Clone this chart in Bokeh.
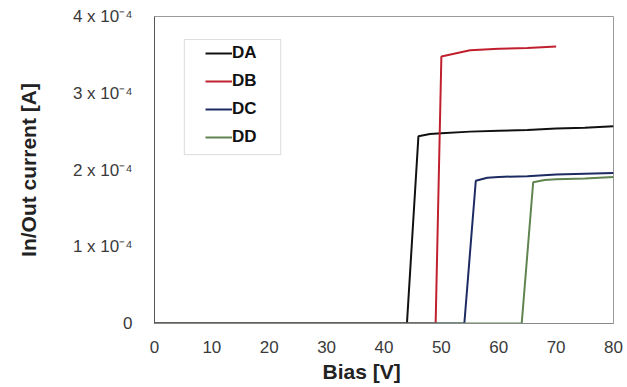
from bokeh.plotting import figure
from bokeh.models import FixedTicker, Legend, LegendItem, BoxAnnotation, Title
from bokeh.embed import file_html
from bokeh.resources import INLINE

# Bias sweep [V] and measured in/out current [A] per device
da_bias = [0, 10, 20, 30, 40, 44, 46, 48, 50, 55, 60, 65, 70, 75, 80]
da_curr = [0, 0, 0, 0, 0, 0, 2.44e-4, 2.47e-4, 2.48e-4, 2.50e-4, 2.51e-4, 2.52e-4, 2.54e-4, 2.55e-4, 2.57e-4]

db_bias = [0, 10, 20, 30, 40, 49, 50, 55, 60, 65, 70]
db_curr = [0, 0, 0, 0, 0, 0, 3.48e-4, 3.56e-4, 3.58e-4, 3.59e-4, 3.61e-4]

dc_bias = [0, 10, 20, 30, 40, 50, 54, 56, 58, 60, 65, 70, 75, 80]
dc_curr = [0, 0, 0, 0, 0, 0, 0, 1.86e-4, 1.90e-4, 1.91e-4, 1.92e-4, 1.94e-4, 1.95e-4, 1.96e-4]

dd_bias = [0, 10, 20, 30, 40, 50, 60, 64, 66, 68, 70, 75, 80]
dd_curr = [0, 0, 0, 0, 0, 0, 0, 0, 1.84e-4, 1.87e-4, 1.88e-4, 1.89e-4, 1.91e-4]

series_names = ["DA", "DB", "DC", "DD"]
series_colors = ["#111111", "#c0202e", "#1c2b62", "#5f8450"]

x_ticks = [0, 10, 20, 30, 40, 50, 60, 70, 80]
y_ticks = [0, 1e-4, 2e-4, 3e-4, 4e-4]
y_tick_labels = ["0", "1 x 10\u207b\u2074", "2 x 10\u207b\u2074", "3 x 10\u207b\u2074", "4 x 10\u207b\u2074"]

FONT = "Liberation Sans"

p = figure(width=627, height=387, output_backend="svg", toolbar_location=None,
           x_range=(0, 80), y_range=(0, 4e-4),
           min_border_left=154, min_border_right=14, min_border_top=16, min_border_bottom=64)
p.grid.visible = False
p.outline_line_color = "#9a9a9a"
p.outline_line_width = 1
p.background_fill_color = "white"
p.border_fill_color = "white"

# legend frame
p.add_layout(BoxAnnotation(left=5.2, right=22.0, top=3.70e-4, bottom=2.20e-4,
                           fill_color="white", fill_alpha=1.0,
                           line_color="#8a8a8a", line_width=1, level="underlay"))

renderers = []
for xs, ys, c in zip([da_bias, db_bias, dc_bias, dd_bias],
                     [da_curr, db_curr, dc_curr, dd_curr], series_colors):
    renderers.append(p.line(xs, ys, line_color=c, line_width=2))

legend = Legend(items=[LegendItem(label=n, renderers=[r]) for n, r in zip(series_names, renderers)],
                location=(51, 176), border_line_color=None, background_fill_alpha=0,
                padding=0, margin=0, spacing=8, glyph_width=27, glyph_height=20,
                label_height=20, label_standoff=0,
                label_text_font=FONT, label_text_font_style="bold",
                label_text_font_size="17px", label_text_color="#111111")
p.add_layout(legend)

for ax in (p.xaxis[0], p.yaxis[0]):
    ax.major_tick_line_color = None
    ax.minor_tick_line_color = None
    ax.major_label_text_font = FONT
    ax.major_label_text_font_size = "17px"
    ax.major_label_text_color = "#3a3a3a"
    ax.axis_label_text_font = FONT
    ax.axis_label_text_font_style = "bold"
    ax.axis_label_text_font_size = "21px"
    ax.axis_label_text_color = "#222222"

p.xaxis.ticker = FixedTicker(ticks=x_ticks)
p.xaxis.axis_line_color = "#8a8a8a"
p.xaxis.major_label_standoff = 11

# x-axis title, set slightly left of the frame centre
p.add_layout(Title(text="Bias [V]", align="left", offset=168, standoff=4,
                   text_font=FONT, text_font_style="bold", text_font_size="21px",
                   text_color="#222222"), "below")

p.yaxis.ticker = FixedTicker(ticks=y_ticks)
p.yaxis.major_label_overrides = {t: s for t, s in zip(y_ticks, y_tick_labels)}
p.yaxis.axis_line_color = "#555555"
p.yaxis.major_label_standoff = 16
p.yaxis.axis_label = "In/Out current [A]"
p.yaxis.axis_label_standoff = 30

open("out.html", "w").write(file_html(p, INLINE))
